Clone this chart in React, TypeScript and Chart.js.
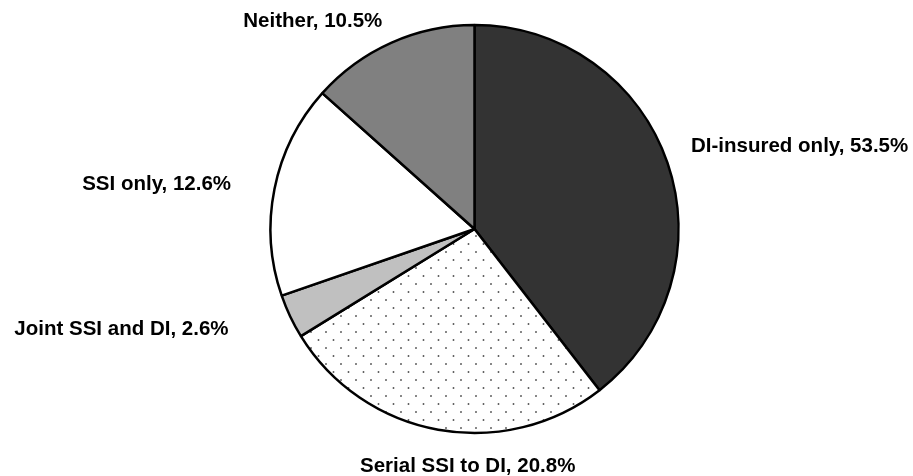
import React, { useEffect, useRef } from "react";
import { Chart, registerables } from "chart.js";

Chart.register(...registerables);

// Categories (clockwise from 12 o'clock)
const categories = [
  "DI-insured only",
  "Serial SSI to DI",
  "Joint SSI and DI",
  "SSI only",
  "Neither",
];

// Slice sizes as drawn in the picture (share of the circle, %)
const sliceValues = [39.5, 26.7, 3.5, 16.9, 13.4];

// Percentages printed in the labels
const labelPercents = ["53.5%", "20.8%", "2.6%", "12.6%", "10.5%"];

function makeDotPattern(): CanvasPattern | string {
  const c = document.createElement("canvas");
  c.width = 15;
  c.height = 16;
  const g = c.getContext("2d");
  if (!g) return "#ffffff";
  g.fillStyle = "#ffffff";
  g.fillRect(0, 0, 15, 16);
  g.fillStyle = "#555555";
  g.beginPath();
  g.arc(3.5, 4, 0.95, 0, Math.PI * 2);
  g.fill();
  g.beginPath();
  g.arc(11, 12, 0.95, 0, Math.PI * 2);
  g.fill();
  const p = g.createPattern(c, "repeat");
  return p || "#ffffff";
}

const outsideLabels = {
  id: "outsideLabels",
  afterDatasetsDraw(chart: any, _args: any, opts: any) {
    const ctx = chart.ctx as CanvasRenderingContext2D;
    const meta = chart.getDatasetMeta(0);
    const labels = chart.data.labels as string[];
    ctx.save();
    ctx.font = opts.font;
    ctx.fillStyle = opts.color;
    ctx.textBaseline = "alphabetic";
    meta.data.forEach((arc: any, i: number) => {
      const { x, y, startAngle, endAngle, outerRadius } = arc.getProps(
        ["x", "y", "startAngle", "endAngle", "outerRadius"],
        true
      );
      const mid = (startAngle + endAngle) / 2;
      const cx = Math.cos(mid);
      const sy = Math.sin(mid);
      const d = outerRadius + opts.gap;
      const nudge = (opts.nudges && opts.nudges[i]) || [0, 0];
      const ax = x + cx * d + nudge[0];
      const ay = y + sy * d + nudge[1];
      ctx.textAlign = Math.abs(cx) < 0.3 ? "center" : cx > 0 ? "left" : "right";
      ctx.fillText(`${labels[i]}, ${labelPercents[i]}`, ax, ay + opts.capHeight / 2);
    });
    ctx.restore();
  },
};

export default function App() {
  const canvasRef = useRef<HTMLCanvasElement | null>(null);

  useEffect(() => {
    const canvas = canvasRef.current;
    if (!canvas) return;
    const dots = makeDotPattern();
    const chart = new Chart(canvas, {
      type: "pie",
      data: {
        labels: categories,
        datasets: [
          {
            data: sliceValues,
            backgroundColor: ["#333333", dots as any, "#c0c0c0", "#ffffff", "#808080"],
            borderColor: "#000000",
            borderWidth: 2.5,
            hoverOffset: 0,
          },
        ],
      },
      options: {
        responsive: false,
        animation: false,
        radius: 204,
        layout: { padding: { left: 36, right: 0, top: 0, bottom: 18 } },
        plugins: {
          legend: { display: false },
          tooltip: { enabled: false },
          outsideLabels: {
            font: "bold 20.5px 'Liberation Sans', Arial, sans-serif",
            color: "#000000",
            gap: 20,
            capHeight: 14.7,
            nudges: [
              [4.6, -11.9],
              [33.1, 14.8],
              [-43.6, 2.3],
              [-23.8, -2.1],
              [-0.7, -5],
            ],
          },
        } as any,
      },
      plugins: [outsideLabels],
    });
    return () => chart.destroy();
  }, []);

  return (
    <div
      style={{
        position: "fixed",
        left: 0,
        top: 0,
        width: 913,
        height: 476,
        background: "#ffffff",
      }}
    >
      <canvas ref={canvasRef} width={913} height={476} style={{ display: "block" }} />
    </div>
  );
}
